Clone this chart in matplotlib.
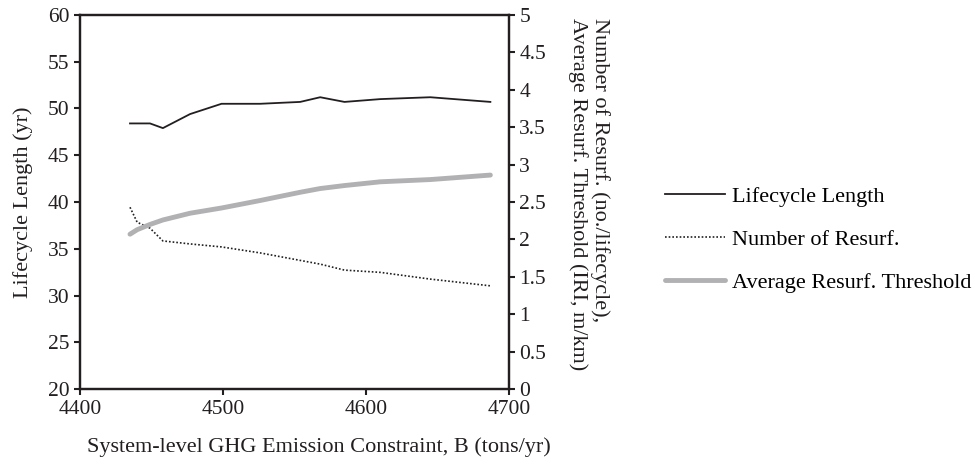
import matplotlib
matplotlib.use('Agg')
from matplotlib import pyplot as plt
import numpy as np

plt.rcParams['font.family'] = ['Liberation Serif', 'DejaVu Serif']

# 数据
emission = [4435, 4440, 4449, 4458, 4477, 4499, 4526, 4554, 4568, 4585, 4610, 4645, 4687]
lifecycle = [48.4, 48.4, 48.4, 47.9, 49.4, 50.5, 50.5, 50.7, 51.2, 50.7, 51.0, 51.2, 50.7]
num_resurf = [2.43, 2.23, 2.15, 1.98, 1.94, 1.90, 1.82, 1.72, 1.67, 1.59, 1.56, 1.47, 1.38]
threshold = [2.07, 2.13, 2.20, 2.26, 2.35, 2.42, 2.52, 2.63, 2.68, 2.72, 2.77, 2.80, 2.86]

fs = 16
fig = plt.figure(figsize=(9.75, 4.66), dpi=100)
ax = fig.add_axes([0.082, 0.165, 0.44, 0.803])
ax2 = ax.twinx()

l1, = ax.plot(emission, lifecycle, color='#231f20', lw=1.3, label='Lifecycle Length')
l2, = ax2.plot(emission, num_resurf, color='#231f20', lw=1.2, ls=(0, (1, 1.2)), label='Number of Resurf.')
l3, = ax2.plot(emission, threshold, color='#b1b1b3', lw=3.5, solid_capstyle='round', label='Average Resurf. Threshold')

ax.set_xlim(4400, 4700)
ax.set_ylim(20, 60)
ax2.set_ylim(0, 5)
ax.set_xticks([4400, 4500, 4600, 4700])
ax.set_yticks(np.arange(20, 61, 5))
ax2.set_yticks(np.arange(0, 5.01, 0.5))
ax2.set_yticklabels(['0', '0.5', '1', '1.5', '2', '2.5', '3', '3.5', '4', '4.5', '5'])

for a in (ax, ax2):
    for s in a.spines.values():
        s.set_linewidth(1.6)
        s.set_color('#231f20')
    a.tick_params(direction='out', length=4, width=1.5, labelsize=fs - 0.5, color='#231f20', labelcolor='#231f20')

fig.text(87 / 975, 1 - 447 / 466, 'System-level GHG Emission Constraint, B (tons/yr)', fontsize=fs,
         color='#231f20', ha='left', va='center')
ax.set_ylabel('Lifecycle Length (yr)', fontsize=fs, color='#231f20', labelpad=11)
fig.text(589 / 975, 1 - 18 / 466,
         'Number of Resurf. (no./lifecycle),\nAverage Resurf. Threshold (IRI, m/km)',
         fontsize=fs, color='#231f20', rotation=270, ha='center', va='top', linespacing=1.15,
         multialignment='left')

fig.legend(handles=[l1, l2, l3], loc='center left', bbox_to_anchor=(665 / 975, 1 - 239.5 / 466),
           frameon=False, fontsize=fs, handlelength=2.7, labelspacing=1.0, handletextpad=0.3,
           borderaxespad=0, borderpad=0)

plt.savefig('out.png', dpi=100)
